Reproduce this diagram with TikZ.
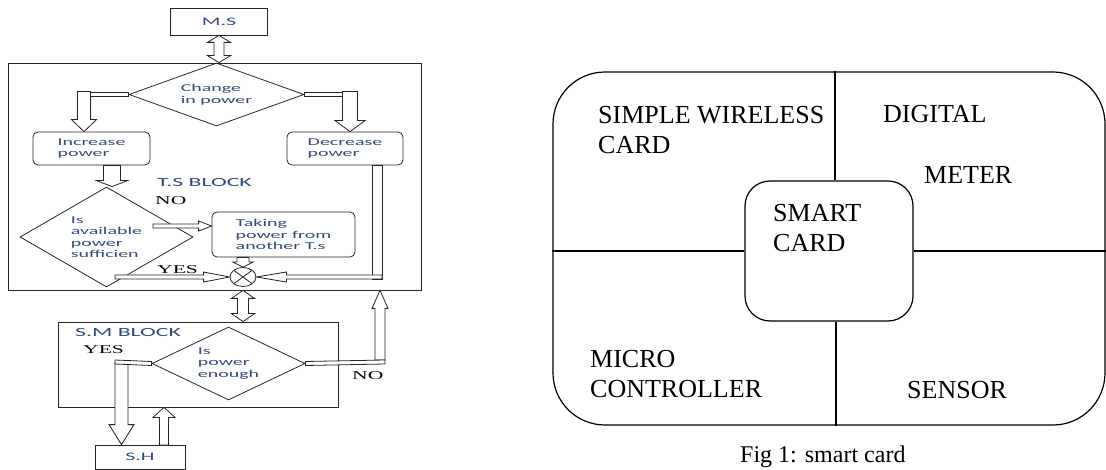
\documentclass[tikz,border=0pt]{standalone}
\usepackage{fontspec}
\setmainfont{Liberation Serif}
\newfontfamily\flowfont{Carlito}[FakeStretch=1.9]
\newfontfamily\flowserif{Liberation Serif}[FakeStretch=1.8]
\usetikzlibrary{shapes.geometric,calc}
\definecolor{flowtext}{RGB}{50,75,120}

\tikzset{
  flowline/.style={draw=black!85, line width=0.8pt},
  blockbox/.style={flowline, rectangle, inner sep=0pt},
  termbox/.style={flowline, rectangle, inner sep=0pt, text=flowtext, font=\flowfont\fontsize{11.5}{13}\selectfont},
  stepbox/.style={flowline, rectangle, rounded corners=5pt, inner sep=0pt, align=left, text=flowtext, font=\flowfont\fontsize{10.5}{11.5}\selectfont},
  decision/.style={flowline, diamond, inner sep=0pt, align=left, text=flowtext, font=\flowfont\fontsize{10.5}{11.5}\selectfont},
  sumnode/.style={flowline, ellipse, minimum width=26pt, minimum height=19pt, inner sep=0pt,
    path picture={\draw [black!85, line width=0.8pt] (path picture bounding box.north west) -- (path picture bounding box.south east)
      (path picture bounding box.south west) -- (path picture bounding box.north east);}},
  flowlabel/.style={inner sep=0pt, text=flowtext, font=\flowfont\fontsize{12.5}{14}\selectfont},
  answer/.style={inner sep=0pt, font=\flowserif\fontsize{12}{14}\selectfont},
  cardline/.style={draw=black, line width=1.2pt},
  cardtext/.style={inner sep=0pt, align=left, font=\fontsize{26}{30}\selectfont},
  % hollow block arrows: shaft half width, head half width, head length
  blockarrow/.style n args={3}{flowline, fill=white, to path={
    let \p1=(\tikztostart), \p2=(\tikztotarget), \n1={atan2(\y2-\y1,\x2-\x1)} in
    ($(\p1)+({\n1+90}:#1)$) -- ($(\p2)+({\n1+180}:#3)+({\n1+90}:#1)$)
    -- ($(\p2)+({\n1+180}:#3)+({\n1+90}:#2)$) -- (\p2)
    -- ($(\p2)+({\n1+180}:#3)+({\n1-90}:#2)$) -- ($(\p2)+({\n1+180}:#3)+({\n1-90}:#1)$)
    -- ($(\p1)+({\n1-90}:#1)$) -- cycle}},
  blockboth/.style n args={3}{flowline, fill=white, to path={
    let \p1=(\tikztostart), \p2=(\tikztotarget), \n1={atan2(\y2-\y1,\x2-\x1)} in
    (\p1) -- ($(\p1)+({\n1}:#3)+({\n1+90}:#2)$) -- ($(\p1)+({\n1}:#3)+({\n1+90}:#1)$)
    -- ($(\p2)+({\n1+180}:#3)+({\n1+90}:#1)$) -- ($(\p2)+({\n1+180}:#3)+({\n1+90}:#2)$) -- (\p2)
    -- ($(\p2)+({\n1+180}:#3)+({\n1-90}:#2)$) -- ($(\p2)+({\n1+180}:#3)+({\n1-90}:#1)$)
    -- ($(\p1)+({\n1}:#3)+({\n1-90}:#1)$) -- ($(\p1)+({\n1}:#3)+({\n1-90}:#2)$) -- cycle}},
  blockbar/.style={flowline, fill=white, to path={
    let \p1=(\tikztostart), \p2=(\tikztotarget), \n1={atan2(\y2-\y1,\x2-\x1)} in
    ($(\p1)+({\n1+90}:#1)$) -- ($(\p2)+({\n1+90}:#1)$)
    -- ($(\p2)+({\n1-90}:#1)$) -- ($(\p1)+({\n1-90}:#1)$) -- cycle}},
}

\begin{document}
\begin{tikzpicture}[x=1pt, y=-1pt]
\useasboundingbox (0,0) rectangle (1106,470);

% left: power flow chart
\node (ms) [termbox, minimum width=97pt, minimum height=27pt] at (219,21.5) {M.S};
\node (tsblock) [blockbox, minimum width=413pt, minimum height=227pt] at (214.5,176.5) {};
\node (chg) [decision, aspect=2.8, minimum width=175pt, minimum height=63pt] at (216.5,94.5) {Change\\in power};
\node (incr) [stepbox, minimum width=117pt, minimum height=33pt] at (91.5,148.5) {Increase\\power};
\node (decr) [stepbox, minimum width=116pt, minimum height=33pt] at (345,148.5) {Decrease\\power};
\node (isok) [decision, aspect=1.75, minimum width=173pt, minimum height=100pt] at (106.5,237) {Is\\available\\power\\sufficien};
\node (take) [stepbox, minimum width=143pt, minimum height=45pt] at (283.5,234.5) {Taking\\power from\\another T.s};
\node (sum) [sumnode] at (243,277) {};
\node (tslabel) [flowlabel, anchor=base west] at (157,187) {T.S BLOCK};
\node (tsno) [answer, anchor=base west] at (155,205) {NO};
\node (tsyes) [answer, anchor=base west] at (157,274) {YES};

\node (smblock) [blockbox, minimum width=280pt, minimum height=85pt] at (198,364.5) {};
\node (pwr) [decision, aspect=2.1, minimum width=153pt, minimum height=73pt] at (228.5,363.5) {Is\\power\\enough};
\node (sh) [termbox, minimum width=90pt, minimum height=24pt] at (140,457) {S.H};
\node (smlabel) [flowlabel, anchor=base west] at (75,337) {S.M BLOCK};
\node (smyes) [answer, anchor=base west] at (83,353) {YES};
\node (smno) [answer, anchor=base west] at (352,380) {NO};

\coordinate (incrbend) at (84,94.5);
\coordinate (decrbend) at (350,94.5);
\coordinate (nostart) at (153,226);
\coordinate (yesstart) at (115,277);
\coordinate (decrdown) at (377,279);
\coordinate (shbend) at (121.5,362);
\coordinate (shup) at (164,445);
\coordinate (nobend) at (380,362);

\draw [blockboth={5pt}{11.5pt}{7pt}] (ms.south) to (ms.south |- chg.north);
\draw [blockarrow={6.5pt}{12.5pt}{12pt}] ([yshift=3pt]incrbend) to (incrbend |- incr.north);
\draw [blockbar=2pt] (chg.west) to ([xshift=6.5pt]incrbend);
\draw [blockarrow={7.5pt}{15pt}{11pt}] ([yshift=3pt]decrbend) to (decrbend |- decr.north);
\draw [blockbar=2pt] (chg.east) to ([xshift=-7.5pt]decrbend);
\draw [blockarrow={8.5pt}{15.5pt}{6pt}] ([xshift=20.5pt]incr.south) to ([xshift=5.5pt]isok.north);
\draw [blockarrow={2pt}{5pt}{13pt}] (nostart) to (nostart -| take.west);
\draw [blockarrow={6pt}{10pt}{5pt}] (take.south -| sum.north) to (sum.north);
\draw [blockarrow={2pt}{5pt}{26pt}] (yesstart) to (sum.west);
\draw [blockbar=5pt] (decr.south -| decrdown) to (decrdown);
\draw [blockarrow={2pt}{5pt}{30pt}] ([xshift=5pt]decrdown |- sum.east) to (sum.east);
\draw [blockboth={5.5pt}{11.5pt}{8pt}] (tsblock.south -| sum.south) to (smblock.north -| sum.south);
\draw [blockarrow={6.5pt}{12.5pt}{20pt}] (shbend) to (shbend |- sh.north);
\draw [blockbar=2pt] (pwr.west) to ([xshift=-6.5pt]shbend);
\draw [blockarrow={4.5pt}{11pt}{10pt}] (shup) to (shup |- smblock.south);
\draw [blockarrow={5pt}{8pt}{18pt}] ([yshift=2pt]nobend) to (nobend |- tsblock.south);
\draw [blockbar=2pt] (pwr.east) to ([xshift=5pt]nobend);

% right: smart card
\node (card) [cardline, rounded corners=52pt, minimum width=552pt, minimum height=353pt] at (829,248.5) {};
\node (smart) [cardline, rounded corners=25pt, minimum width=168pt, minimum height=140pt] at (829,251) {};
\draw [cardline] ([xshift=6pt]smart.north) -- ([xshift=6pt]smart.north |- card.north);
\draw [cardline] ([xshift=7pt]smart.south) -- ([xshift=7pt]smart.south |- card.south);
\draw [cardline] (smart.west) -- (smart.west -| card.west);
\draw [cardline] (smart.east) -- (smart.east -| card.east);

\node (wireless) [cardtext, anchor=north west] at (598,106.5) {SIMPLE WIRELESS\\CARD};
\node (digital) [cardtext, anchor=base west] at (883,123) {DIGITAL};
\node (meter) [cardtext, anchor=base west] at (924,184) {METER};
\node (smarttext) [cardtext, anchor=north west] at (773,204.5) {SMART\\CARD};
\node (micro) [cardtext, anchor=north west] at (590,350.5) {MICRO\\CONTROLLER};
\node (sensor) [cardtext, anchor=base west] at (907,399) {SENSOR};
\node (caption) [cardtext, anchor=base west, font=\fontsize{24}{28}\selectfont] at (740,462) {Fig 1: smart card};
\end{tikzpicture}
\end{document}
